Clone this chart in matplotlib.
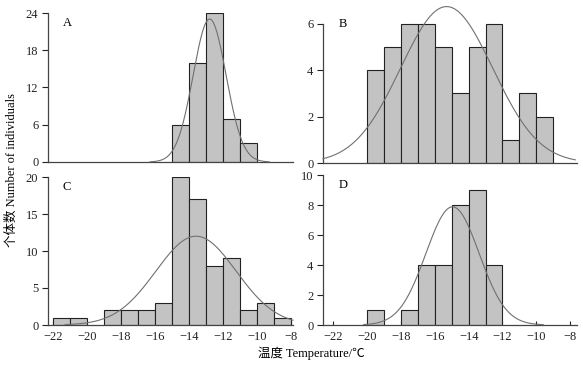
import numpy as np
import matplotlib
matplotlib.use("Agg")
import matplotlib.pyplot as plt

plt.rcParams['font.family'] = ['Liberation Serif', 'Noto Sans CJK SC', 'DejaVu Sans']
plt.rcParams['font.size'] = 9

# histogram counts, 1-degree bins (left edges)
a_left = [-15, -14, -13, -12, -11]
a_count = [6, 16, 24, 7, 3]

b_left = [-20, -19, -18, -17, -16, -15, -14, -13, -12, -11, -10]
b_count = [4, 5, 6, 6, 5, 3, 5, 6, 1, 3, 2]

c_left = [-22, -21, -19, -18, -17, -16, -15, -14, -13, -12, -11, -10, -9]
c_count = [1, 1, 2, 2, 2, 3, 20, 17, 8, 9, 2, 3, 1]

d_left = [-20, -18, -17, -16, -15, -14, -13]
d_count = [1, 1, 4, 4, 8, 9, 4]

# fitted normal curves: mean, sd, curve span
a_fit = (-12.8, 0.97, -16.3, -9.3)
b_fit = (-15.3, 2.72, -22.6, -7.7)
c_fit = (-13.6, 2.36, -21.3, -7.9)
d_fit = (-14.95, 1.57, -20.2, -9.6)

a_yticks = [0, 6, 12, 18, 24]
b_yticks = [0, 2, 4, 6]
c_yticks = [0, 5, 10, 15, 20]
d_yticks = [0, 2, 4, 6, 8, 10]
x_ticks = [-22, -20, -18, -16, -14, -12, -10, -8]

W, H = 583, 369
fig = plt.figure(figsize=(W / 100, H / 100), dpi=100)


def make_ax(x0, y0, x1, y1):
    return fig.add_axes([x0 / W, 1 - y1 / H, (x1 - x0) / W, (y1 - y0) / H])


def draw(ax, left, count, fit, yticks, ylim, xlim, letter, show_x):
    ax.bar(left, count, width=1.0, align='edge', color='#c3c3c3',
           edgecolor='#222222', linewidth=0.8, zorder=2)
    mu, sd, lo, hi = fit
    n = sum(count)
    xs = np.linspace(lo, hi, 300)
    ys = n / (sd * np.sqrt(2 * np.pi)) * np.exp(-0.5 * ((xs - mu) / sd) ** 2)
    ax.plot(xs, ys, color='#707070', linewidth=0.8, zorder=3, clip_on=False)
    ax.set_xlim(*xlim)
    ax.set_ylim(*ylim)
    ax.set_yticks(yticks)
    for s in ('top', 'right'):
        ax.spines[s].set_visible(False)
    for s in ('left', 'bottom'):
        ax.spines[s].set_color('#444444')
        ax.spines[s].set_linewidth(0.9)
    ax.spines['left'].set_bounds(yticks[0], yticks[-1])
    ax.tick_params(axis='y', direction='out', length=4, width=0.8, pad=3, colors='#222222')
    if show_x:
        ax.set_xticks(x_ticks)
        ax.tick_params(axis='x', direction='in', length=3, width=0.8, pad=4, colors='#222222')
    else:
        ax.set_xticks([])
    ax.text(0.06, 0.97, letter, transform=ax.transAxes, ha='left', va='top', fontsize=9)


axA = make_ax(48, 13, 293, 162)
draw(axA, a_left, a_count, a_fit, a_yticks, (0, 24), (-22.3, -7.9), 'A', False)

axB = make_ax(323, 13, 577, 163)
draw(axB, b_left, b_count, b_fit, b_yticks, (0, 6.47), (-22.6, -7.6), 'B', False)

axC = make_ax(48, 177, 293, 325)
draw(axC, c_left, c_count, c_fit, c_yticks, (0, 20), (-22.3, -7.9), 'C', True)

axD = make_ax(323, 175, 577, 325)
draw(axD, d_left, d_count, d_fit, d_yticks, (0, 10), (-22.6, -7.6), 'D', True)

fig.text(12 / W, 1 - 170 / H, '个体数 Number of individuals', rotation=90,
         ha='center', va='center', fontsize=9)
fig.text(311 / W, 1 - 353 / H, '温度 Temperature/℃', ha='center', va='center', fontsize=9)

fig.savefig('out.png', dpi=100)
